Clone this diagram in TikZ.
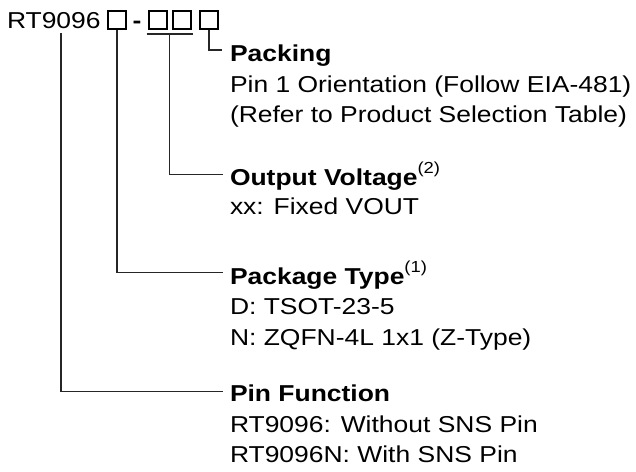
\documentclass[tikz,border=0pt]{standalone}
\usepackage{fontspec}
\setmainfont{Liberation Sans}[FakeStretch=1.15]
\usetikzlibrary{calc}
\newcommand\supnote[1]{\raisebox{12pt}{\fontsize{16}{16}\selectfont\mdseries(#1)}}
\tikzset{
  txt/.style={anchor=base west, inner sep=0pt, outer sep=0pt, font=\fontsize{23}{23}\selectfont},
  head/.style={txt, font=\fontsize{23}{23}\selectfont\bfseries},
  codebox/.style={draw=black, line width=2pt, minimum width=18pt, minimum height=18pt, inner sep=0pt},
  conn/.style={draw=black!85, line width=1.1pt},
}
\begin{document}
\begin{tikzpicture}[x=1pt,y=1pt]
\useasboundingbox (0,0) rectangle (636,-471);
% part number
\node[txt] (pn) at (7,-28) {RT9096};
\node[codebox] (b1) at (117,-20) {};
\node[txt, font=\fontsize{23}{23}\selectfont\bfseries] (dash) at (132.5,-28) {-};
\node[codebox] (b2) at (157.5,-20) {};
\node[codebox] (b3) at (181.5,-20) {};
\node[codebox] (b4) at (209,-20) {};
\coordinate (p0) at (61,-33);
\coordinate (ul) at (169.5,-34);
% descriptions
\node[head] (pk) at (230,-61) {Packing};
\node[txt] (pk1) at (230,-92) {Pin 1 Orientation (Follow EIA-481)};
\node[txt] (pk2) at (230,-122) {(Refer to Product Selection Table)};
\node[head] (ov) at (230,-185) {Output Voltage\supnote{2}};
\node[txt] (ov1) at (230,-214) {xx: Fixed VOUT};
\node[head] (pt) at (230,-284) {Package Type\supnote{1}};
\node[txt] (pt1) at (230,-314) {D: TSOT-23-5};
\node[txt] (pt2) at (230,-345) {N: ZQFN-4L 1x1 (Z-Type)};
\node[head] (pf) at (230,-401) {Pin Function};
\node[txt] (pf1) at (230,-432) {RT9096: Without SNS Pin};
\node[txt] (pf2) at (230,-462) {RT9096N: With SNS Pin};
% connectors
\draw[conn] ([xshift=-1pt,yshift=-4pt]b2.south west) -- ([xshift=1pt,yshift=-4pt]b3.south east);
\draw[conn] (b4.south) |- ([shift={(-8pt,11pt)}]pk.base west);
\draw[conn] (ul) |- ([shift={(-7pt,10.5pt)}]ov.base west);
\draw[conn] (b1.south) |- ([shift={(-7pt,11.5pt)}]pt.base west);
\draw[conn] (p0) |- ([shift={(-7pt,9.5pt)}]pf.base west);
\end{tikzpicture}
\end{document}
